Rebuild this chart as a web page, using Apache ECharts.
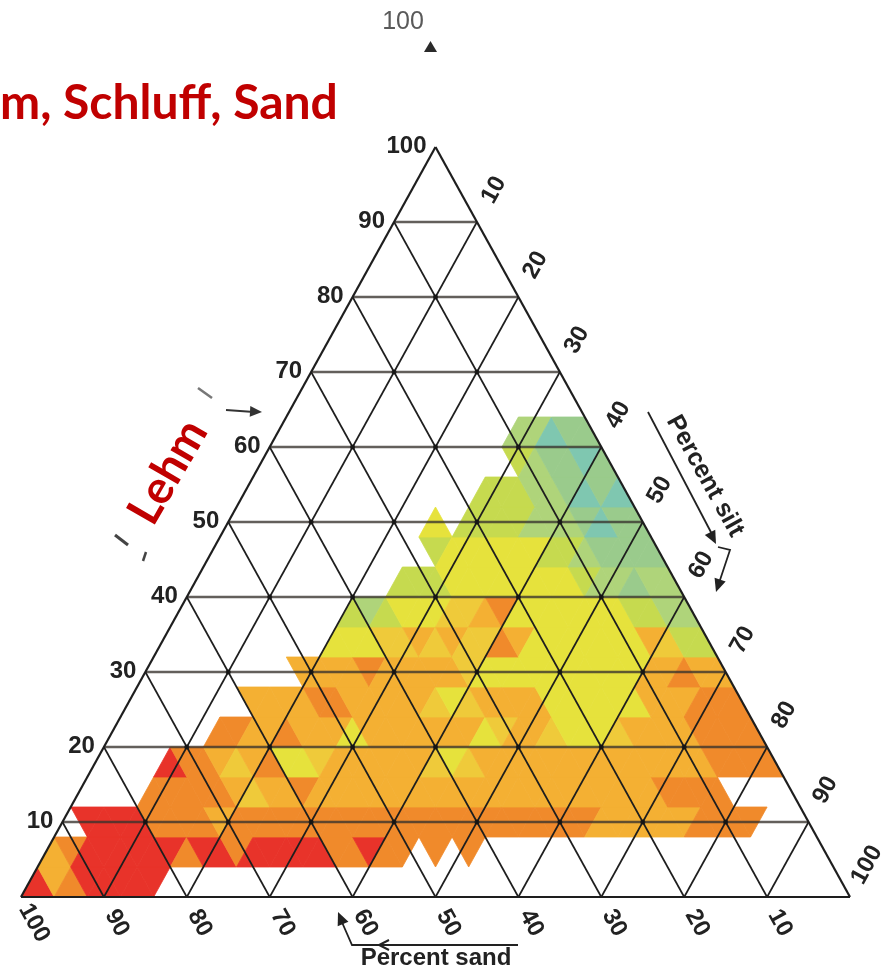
<!DOCTYPE html>
<html>
<head>
<meta charset="utf-8">
<script src="https://cdn.jsdelivr.net/npm/echarts@6/dist/echarts.min.js"></script>
<style>
  html, body { margin: 0; padding: 0; background: #ffffff; }
  #main { width: 887px; height: 973px; }
</style>
</head>
<body>
<div id="main"></div>
<script>
// Soil texture density on a 4 % ternary lattice, one entry per clay band (bottom up).
// [clay band index, first lattice column, level codes]; '.' marks an empty cell.
const densityRows = [
  [0, 0,  "02100000"],
  [1, 1,  "2100000010010000011011.1.1"],
  [2, 3,  "00001111211111111111111111111112222221111"],
  [3, 7,  "11111232212222222222222222222221111"],
  [4, 8,  "0112321443222222343222222222222221111"],
  [5, 11, "112212224222222243223444322221111"],
  [6, 13, "222211222223432222444444222111"],
  [7, 16, "22221222223444444444422122"],
  [8, 18, "44433232331244444442355"],
  [9, 19, "565444332144444445566"],
  [10, 22, "55544444444566766"],
  [11, 24, "54444445567777"],
  [12, 24, "4.55556667877"],
  [13, 27, "555667878"],
  [14, 29, "567787"],
  [15, 29, "66877"]
];

// Colour for each density level, low (red) to high (teal)
const levelColors = ["#e8332a", "#f08a2b", "#f4b033", "#efca3a", "#e6e23c",
                     "#c6da4f", "#afd47a", "#9acb8c", "#7fc7b0"];

const clayTicks = [10, 20, 30, 40, 50, 60, 70, 80, 90, 100];
const siltTicks = [10, 20, 30, 40, 50, 60, 70, 80, 90, 100];
const sandTicks = [10, 20, 30, 40, 50, 60, 70, 80, 90, 100];
const gridSteps = [10, 20, 30, 40, 50, 60, 70, 80, 90];

// ternary (clay %, sand %) -> cartesian (x 0..100, y 0..100)
function tern(clay, sand) { return [100 - sand - clay / 2, clay]; }

const cells = [];
densityRows.forEach(([row, start, codes]) => {
  for (let k = 0; k < codes.length; k++) {
    const ch = codes[k];
    if (ch === '.') continue;
    cells.push([row, start + k, Number(ch)]);
  }
});

// grid segments: [x1, y1, x2, y2, kind] kind 0 = clay line, 1 = diagonal, 2 = outline
const segs = [];
gridSteps.forEach(v => {
  segs.push([...tern(v, 100 - v), ...tern(v, 0), 0]);
  segs.push([...tern(0, v), ...tern(100 - v, v), 1]);
  segs.push([...tern(0, 100 - v), ...tern(100 - v, 0), 1]);
});
segs.push([...tern(0, 100), ...tern(0, 0), 2]);
segs.push([...tern(0, 0), ...tern(100, 0), 2]);
segs.push([...tern(100, 0), ...tern(0, 100), 2]);

const nodes = [];
gridSteps.forEach(c => gridSteps.forEach(s => {
  if (100 - c - s >= 10) nodes.push(tern(c, s));
}));

const tickFont = "bold 24px 'Liberation Sans', Arial, sans-serif";
const titleFont = "bold 25px 'Liberation Sans', Arial, sans-serif";
const R61 = 61 * Math.PI / 180;

function tickSeries(data, dx, dy, rot, align) {
  return {
    type: 'custom', coordinateSystem: 'cartesian2d', z: 5, silent: true,
    data: data,
    renderItem(params, api) {
      const p = api.coord([api.value(0), api.value(1)]);
      return {
        type: 'text', x: p[0] + dx, y: p[1] + dy, rotation: rot,
        style: { text: String(api.value(2)), font: tickFont, fill: '#222',
                 align: align, verticalAlign: 'middle' }
      };
    }
  };
}

function arrowHead(tip, from, size, color) {
  const dx = tip[0] - from[0], dy = tip[1] - from[1];
  const L = Math.hypot(dx, dy), ux = dx / L, uy = dy / L;
  const bx = tip[0] - ux * size, by = tip[1] - uy * size;
  const w = size * 0.45;
  return { type: 'polygon', z: 20,
    shape: { points: [tip, [bx - uy * w, by + ux * w], [bx + uy * w, by - ux * w]] },
    style: { fill: color } };
}

const chart = echarts.init(document.getElementById('main'), null, { renderer: 'canvas' });

chart.setOption({
  animation: false,
  backgroundColor: '#ffffff',
  grid: { left: 21, top: 147, width: 829, height: 750, show: false },
  xAxis: { type: 'value', min: 0, max: 100, show: false },
  yAxis: { type: 'value', min: 0, max: 100, show: false },
  series: [
    {
      type: 'custom', coordinateSystem: 'cartesian2d', z: 1, silent: true,
      data: cells,
      renderItem(params, api) {
        const row = api.value(0), col = api.value(1), lvl = api.value(2);
        const up = (col - row) % 2 === 0;
        const yb = 4 * row, yt = 4 * row + 4;
        const x0 = 2 * col, x1 = 2 * col + 2, x2 = 2 * col + 4;
        const pts = up ? [[x0, yb], [x2, yb], [x1, yt]] : [[x0, yt], [x2, yt], [x1, yb]];
        const c = levelColors[lvl];
        return { type: 'polygon', shape: { points: pts.map(p => api.coord(p)) },
                 style: { fill: c, stroke: c, lineWidth: 0.8 } };
      }
    },
    {
      type: 'custom', coordinateSystem: 'cartesian2d', z: 3, silent: true,
      data: segs,
      renderItem(params, api) {
        const a = api.coord([api.value(0), api.value(1)]);
        const b = api.coord([api.value(2), api.value(3)]);
        const kind = api.value(4);
        const style = kind === 0 ? { stroke: 'rgba(55,50,45,0.78)', lineWidth: 2.6 }
                    : kind === 1 ? { stroke: '#1e1e1e', lineWidth: 1.7 }
                    : { stroke: '#1e1e1e', lineWidth: 2.2 };
        return { type: 'line', shape: { x1: a[0], y1: a[1], x2: b[0], y2: b[1] }, style: style };
      }
    },
    {
      type: 'scatter', z: 4, silent: true, symbolSize: 5,
      itemStyle: { color: '#111' }, data: nodes
    },
    tickSeries(clayTicks.map(v => [...tern(v, 100 - v), v]), -9, -1, 0, 'right'),
    tickSeries(siltTicks.map(v => [...tern(100 - v, 0), v]), 17, -32, R61, 'center'),
    tickSeries(sandTicks.map(v => [...tern(0, v), v]), 13, 26, -R61, 'center')
  ],
  graphic: [
    { type: 'text', x: 0, y: 104, z: 30,
      style: { text: 'm, Schluff, Sand', font: "bold 48px Lato, 'Open Sans', sans-serif",
               fill: '#c00000', align: 'left', verticalAlign: 'middle' } },
    { type: 'text', x: 168, y: 472, rotation: 60 * Math.PI / 180, z: 30,
      style: { text: 'Lehm', font: "bold 46px Lato, 'Open Sans', sans-serif",
               fill: '#c00000', align: 'center', verticalAlign: 'middle' } },
    { type: 'text', x: 403, y: 22, z: 30,
      style: { text: '100', font: "25px 'Liberation Sans', Arial, sans-serif",
               fill: '#5a5a5a', align: 'center', verticalAlign: 'middle' } },
    { type: 'polygon', z: 30, shape: { points: [[424, 52], [437, 52], [430.5, 41]] },
      style: { fill: '#2a2a2a' } },
    { type: 'text', x: 705, y: 476, rotation: -R61, z: 30,
      style: { text: 'Percent silt', font: titleFont, fill: '#222',
               align: 'center', verticalAlign: 'middle' } },
    { type: 'text', x: 436, y: 958, z: 30,
      style: { text: 'Percent sand', font: tickFont, fill: '#222',
               align: 'center', verticalAlign: 'middle' } },
    // silt direction arrow
    { type: 'polyline', z: 20, shape: { points: [[648, 412], [714, 538]] },
      style: { stroke: '#222', lineWidth: 1.8, fill: null } },
    arrowHead([716, 544], [648, 412], 13, '#222'),
    { type: 'polyline', z: 20, shape: { points: [[718, 547], [730, 550], [719, 583]] },
      style: { stroke: '#222', lineWidth: 1.8, fill: null } },
    arrowHead([716, 592], [730, 550], 13, '#222'),
    // sand direction arrow
    { type: 'polyline', z: 20, shape: { points: [[518, 945], [352, 945], [341, 920]] },
      style: { stroke: '#222', lineWidth: 1.8, fill: null } },
    { type: 'polyline', z: 20, shape: { points: [[389, 940], [379, 945], [389, 950]] },
      style: { stroke: '#222', lineWidth: 2, fill: null } },
    arrowHead([338, 912], [352, 945], 13, '#222'),
    // clay direction arrow and traces of its caption
    { type: 'polyline', z: 20, shape: { points: [[226, 410], [254, 412]] },
      style: { stroke: '#333', lineWidth: 1.8, fill: null } },
    arrowHead([262, 412], [226, 410], 12, '#333'),
    { type: 'polyline', z: 20, shape: { points: [[198, 388], [212, 398]] },
      style: { stroke: '#777', lineWidth: 2.5, fill: null } },
    { type: 'polyline', z: 20, shape: { points: [[115, 535], [128, 545]] },
      style: { stroke: '#444', lineWidth: 3, fill: null } },
    { type: 'polyline', z: 20, shape: { points: [[146, 552], [143, 561]] },
      style: { stroke: '#444', lineWidth: 2.5, fill: null } }
  ]
});
</script>
</body>
</html>
